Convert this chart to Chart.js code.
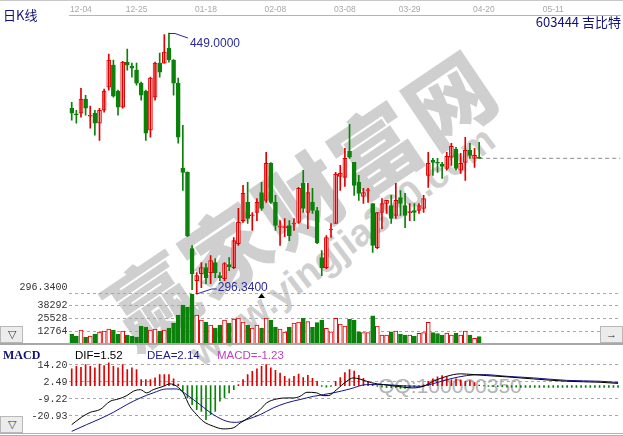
<!DOCTYPE html>
<html><head><meta charset="utf-8">
<script src="https://cdn.jsdelivr.net/npm/chart.js@4.4.1/dist/chart.umd.min.js"></script>
<style>
body{margin:0;width:623px;height:436px;position:relative;background:#fff;overflow:hidden;font-family:"Liberation Sans",Arial,sans-serif}
.a{position:absolute;white-space:nowrap}
canvas{display:block}
.btn{position:absolute;background:#ececec;border:1px solid #b8b8b8;box-sizing:border-box;font-size:11px;color:#333;text-align:center;line-height:14px}
.wm{position:absolute;white-space:nowrap;transform-origin:50% 50%;color:#cfcfcf}
</style></head><body>

<div class="wm" style="left:300px;top:196px;transform:translate(-50%,-50%) rotate(-34deg);font:900 86px 'Noto Sans CJK SC';letter-spacing:4px;line-height:90px">赢家财富网</div>
<div class="wm" style="left:342px;top:246px;transform:translate(-50%,-50%) rotate(-37deg);font:bold 38px 'Liberation Sans';line-height:40px">www.yingjia360.com</div>
<div class="wm" style="left:450px;top:386px;transform:translate(-50%,-50%);font:21px 'Liberation Sans';line-height:24px;color:#b4b4b4">QQ:100000350</div>

<div class="a" style="left:0;top:0;width:623px;height:1px;background:#c8c8c8"></div>
<div class="a" style="left:0;top:290px;width:623px;height:55px"><canvas id="vc" width="623" height="55"></canvas></div>
<div class="a" style="left:0;top:0;width:623px;height:300px"><canvas id="pc" width="623" height="300"></canvas></div>
<div class="a" style="left:0;top:345px;width:623px;height:91px"><canvas id="mc" width="623" height="91"></canvas></div>

<div class="a" style="left:0;top:343px;width:623px;height:2px;background:#a8a8a8"></div>
<div class="a" style="left:0;top:433px;width:623px;height:1px;background:#b0b0b0"></div>
<div class="a" style="left:0;top:435px;width:623px;height:1px;background:#b0b0b0"></div>

<div class="a" style="left:3px;top:6px;font:13px 'Noto Sans CJK SC';color:#10107a;line-height:18px">日K线</div>
<div class="a" style="right:2px;top:13px;font:13px 'Noto Sans CJK SC';color:#10107a;line-height:18px">603444&nbsp;吉比特</div>

<div class="a" style="left:3px;top:347px;font:bold 12px 'Liberation Serif';color:#10107a;line-height:16px">MACD</div>
<div class="a" style="left:75px;top:347px;font:11.5px 'Liberation Sans';color:#000;line-height:16px">DIF=1.52</div>
<div class="a" style="left:147px;top:347px;font:11.5px 'Liberation Sans';color:#1a1a8c;line-height:16px">DEA=2.14</div>
<div class="a" style="left:217px;top:347px;font:11.5px 'Liberation Sans';color:#c040c0;line-height:16px">MACD=-1.23</div>

<div class="btn" style="left:0;top:326px;width:23px;height:17px">▽</div>
<div class="btn" style="left:0;top:416px;width:23px;height:17px">▽</div>
<div class="btn" style="left:600px;top:326px;width:23px;height:17px">→</div>

<script>
// ---------- data ----------
const dateIdx    = [2, 14, 29, 44, 59, 73, 89, 104];
const dateLabels = ['12-04','12-25','01-18','02-08','03-08','03-29','04-20','05-11'];

const open  = [405.0,401.5,402.1,410.3,400.3,402.1,396.2,403.8,417.3,430.2,
               415.0,405.6,432.0,429.6,427.3,419.7,415.0,392.1,411.5,431.4,
               431.4,440.2,433.2,419.7,369.8,367.5,322.9,304.1,308.2,311.8,
               308.8,314.7,307.1,305.3,313.5,311.8,325.8,339.3,349.9,342.0,
               344.0,355.7,351.1,372.8,349.9,335.5,335.2,336.4,337.3,338.2,
               361.0,344.0,349.9,345.2,317.6,311.8,333.8,337.6,365.1,364.5,
               379.8,373.3,361.6,353.4,356.7,349.3,323.5,344.0,349.3,348.1,
               342.3,352.8,348.1,343.9,345.2,345.2,346.4,365.7,374.5,373.3,
               372.2,369.8,376.3,381.0,368.7,373.3,380.4,375.7,375.9];
const high  = [408.5,403.8,416.7,412.6,406.2,403.8,405.0,416.2,436.7,433.2,
               415.6,432.5,439.6,431.4,431.4,420.3,415.6,423.2,432.0,437.3,
               448.1,449.0,433.5,422.6,395.0,367.8,324.7,308.8,314.7,314.1,
               318.8,317.0,308.8,314.7,317.6,329.4,346.4,359.9,361.6,344.0,
               352.2,361.6,379.2,373.2,354.0,339.3,340.5,339.3,340.5,358.7,
               368.7,361.0,358.1,347.0,321.7,330.5,337.6,367.5,371.6,381.6,
               395.6,373.3,365.7,358.1,358.1,349.3,344.0,352.2,351.1,354.0,
               361.0,356.9,355.2,349.3,349.3,349.3,354.0,379.2,375.7,375.7,
               373.3,379.2,384.5,382.1,378.6,388.0,384.5,381.6,385.1];
const low   = [398.0,396.2,399.7,400.9,393.3,389.2,386.2,402.7,415.6,411.5,
               400.9,405.0,427.3,423.2,418.5,409.7,386.2,388.0,409.7,423.2,
               431.4,432.0,412.6,384.5,356.9,329.9,298.9,296.34,300.0,302.4,
               302.4,305.9,304.1,304.1,310.0,311.2,324.7,338.2,337.6,333.5,
               339.3,345.2,349.9,349.3,333.5,324.7,329.9,327.6,333.5,337.6,
               344.0,334.6,343.4,325.8,307.1,311.2,329.4,337.6,356.9,359.3,
               375.7,354.0,351.1,349.3,349.9,320.6,322.9,334.6,343.4,337.6,
               340.5,342.3,335.2,339.3,339.3,343.4,344.0,358.7,365.7,367.5,
               364.0,368.7,371.6,368.7,366.9,362.8,375.7,370.4,375.7];
const close = [402.1,401.2,410.3,405.0,400.6,396.2,403.8,415.0,433.2,412.1,
               405.6,432.0,430.2,428.5,419.7,412.6,390.4,422.6,431.4,426.1,
               437.9,433.2,419.7,388.0,367.5,330.5,308.2,307.1,311.8,305.9,
               315.9,308.8,305.9,314.1,312.3,327.6,338.2,355.2,340.5,342.3,
               349.9,346.4,372.8,349.9,336.4,335.8,335.8,330.5,337.6,358.1,
               346.4,355.7,345.2,326.4,311.8,329.4,334.1,366.3,366.9,375.7,
               376.3,359.9,355.2,355.7,357.0,324.7,344.0,349.3,351.1,340.5,
               351.1,349.3,342.3,344.2,344.0,348.1,352.2,372.8,373.3,372.8,
               371.0,376.9,382.7,369.8,372.8,380.4,377.4,377.4,375.7];
const volume = [9800,7800,13800,6800,7800,9800,11800,12800,14800,13800,
                9800,12800,8800,7800,6800,17900,16800,13800,14800,12800,
                13800,15800,20900,29000,39000,37000,50150,29000,23900,21900,
                18900,15800,18900,23900,20900,24900,25900,21900,18900,15800,
                18900,15800,25900,23900,16800,14800,11800,16800,20900,21900,
                25600,22200,16500,21200,23900,15500,12100,25600,19900,17900,
                24600,23900,12100,11100,11100,28000,17900,8800,8800,12100,
                12800,9500,8800,8800,7800,10400,11100,21600,11100,10100,
                8800,10800,8800,10800,8800,12800,8800,5400,7100];

const macdHist = [11.5,13.3,12.6,14.5,13.3,12.2,14.9,13.8,15.6,13.3,12.2,14.5,11.0,12.2,11.0,4.1,4.1,4.1,5.3,7.6,7.6,7.6,4.6,
  1.0,
  -3.9,-8.5,-13.1,-16.5,-17.7,-23.4,-20.0,-17.7,-10.8,-8.5,-5.0,-2.8,
  0.7,4.1,7.6,9.8,11.5,13.3,14.5,12.2,10.5,8.7,6.4,4.6,6.4,
  8.0,5.5,7.0,5.0,3.0,
  -0.5,-1.0,-0.5,
  3.0,5.5,9.0,11.0,10.0,7.0,5.0,3.0,1.0,
  -0.5,-1.0,-1.5,-1.5,-1.5,-2.0,-2.0,-1.5,-1.0,-0.5,0.5,
  3.0,4.6,6.0,6.9,6.0,3.9,4.6,3.9,3.0,3.4,2.0,0.4,
  -0.3,-0.5,-0.7,-0.8,-0.9,-1.0,
  -1.1,-1.1,-1.2,-1.2,-1.2,-1.2,-1.3,-1.2,-1.2,-1.3,-1.2,-1.2,-1.3,-1.2,-1.2,-1.2,-1.3,-1.2,-1.2,-1.2,-1.2,-1.3,-1.2,-1.23];

const difX = [0,2.2,4,6.1,8.3,10.1,11.9,13.3,14.8,16.2,17.6,19.8,21.2,22.7,24.1,25.5,27,28.4,30.6,32.7,34.9,36.4,38.5,40.7,42.1,44.3,46.4,47.9,49.3,50.8,52.9,54.3,55.4,57.2,59.4,60.8,63.7,64.8,67.3,70.2,73.8,75.9,78.1,81,83.9,86.7,89.6,94,99.7,106.9,114.1,118];
const difY = [-26.9,-21.6,-18.4,-16.5,-10.8,-9.2,-6.9,-3.9,-2.8,-5.0,-2.8,-0.5,1.2,-0.5,-5.0,-14.3,-20.0,-24.6,-28.0,-29.8,-29.1,-25.7,-21.6,-16.5,-11.9,-9.2,-8.5,-8.5,-7.4,-4.6,-5.0,-6.9,-6.9,-2.8,3.0,5.3,3.0,1.9,0.7,-0.5,-1.6,-0.5,3.0,6.4,8.1,7.6,6.9,6.0,4.6,3.0,2.3,1.52];
const deaX = [0,3.2,6.1,9,11.9,14.8,17.6,20.5,22.7,24.8,27.7,30.6,33.5,35.6,37.8,40.7,43.5,46.4,49.3,52.2,56.5,60.1,63.7,67.3,70.9,75.2,78.1,81.7,85.3,88.9,94,99.7,106.9,114.1,118];
const deaY = [-31.5,-26.9,-22.9,-18.4,-13.1,-8.5,-5.0,-2.3,-2.3,-6.2,-13.1,-20.0,-24.6,-25.3,-23.4,-20.0,-15.4,-11.9,-9.6,-7.4,-5.0,-2.3,0.7,0.7,0,-0.5,1.4,4.6,6.9,7.6,6.4,5.3,3.6,3.0,2.14];

const priceTicks = [296.34], priceTickLabels = ['296.3400'];
const volTicks = [12764, 25528, 38292];
const macdTicks = [14.20, 2.49, -9.22, -20.93], macdTickLabels = ['14.20','2.49','-9.22','-20.93'];
const hiIdx = 21, hiVal = 449.0, hiLabel = '449.0000';
const loIdx = 27, loVal = 296.34, loLabel = '296.3400';
const markIdx = 41;
const lastIdx = 88, endIdx = 118.5;

// ---------- styles ----------
const RED = '#e00000', GREEN = '#0a820a';
const XMIN = -0.5, XMAX = 118.5, YW = 69.4, PADR = 2.6;
const up = open.map((o,i)=> close[i] >= o);
const idx = open.map((_,i)=>i);
const monoFont = {family:'"Liberation Mono","DejaVu Sans Mono",monospace', size:10};
const baseX = {type:'linear', min:XMIN, max:XMAX, offset:false, display:false};
const fixW = s => { s.width = YW; s.paddingTop = 0; s.paddingBottom = 0; };
Chart.defaults.animation = false;

const common = {responsive:false, animation:false, events:[],
  plugins:{legend:{display:false}, tooltip:{enabled:false}}};

// ---------- price chart ----------
const markPlugin = {
  id:'marks',
  afterDatasetsDraw(chart){
    const {ctx, scales:{x,y}} = chart;
    ctx.save();
    ctx.strokeStyle = '#2a2a9c'; ctx.fillStyle = '#2a2a9c'; ctx.lineWidth = 1;
    ctx.font = '12px "Liberation Sans"'; ctx.textBaseline = 'middle';
    const hx = x.getPixelForValue(hiIdx), hy = y.getPixelForValue(hiVal);
    ctx.beginPath(); ctx.moveTo(hx, hy+0.5); ctx.lineTo(hx+6, hy+0.5); ctx.lineTo(hx+19, hy+5); ctx.stroke();
    ctx.fillText(hiLabel, hx+21, hy+11);
    const lx = x.getPixelForValue(loIdx), ly = y.getPixelForValue(loVal);
    ctx.beginPath(); ctx.moveTo(lx, ly); ctx.lineTo(lx+15, ly-5); ctx.lineTo(lx+20, ly-5); ctx.stroke();
    ctx.fillText(loLabel, lx+21, ly-6);
    const mx = x.getPixelForValue(markIdx);
    ctx.fillStyle = '#000';
    ctx.beginPath(); ctx.moveTo(mx-3.5, ly+4); ctx.lineTo(mx+3.5, ly+4); ctx.lineTo(mx, ly-0.5); ctx.closePath(); ctx.fill();
    ctx.restore();
  }
};

new Chart(document.getElementById('pc'), {
  type:'bar',
  data:{datasets:[
    {label:'wick', data: idx.map(i=>({x:i, y:[low[i], high[i]]})),
     backgroundColor: idx.map(i=> up[i]?RED:GREEN), barThickness:1, grouped:false, minBarLength:1},
    {label:'body', data: idx.map(i=>({x:i, y:[open[i], close[i]]})),
     backgroundColor: idx.map(i=> up[i]?'#ffffff':GREEN), borderColor: idx.map(i=> up[i]?RED:GREEN),
     borderWidth:1, borderSkipped:false, barThickness:4, grouped:false, minBarLength:1},
    {type:'line', label:'last', data:[{x:lastIdx, y:close[lastIdx]},{x:endIdx, y:close[lastIdx]}],
     borderColor:'#8a8a8a', borderWidth:1, borderDash:[4,3], pointRadius:0}
  ]},
  options:{...common,
    layout:{padding:{left:0,right:PADR,top:0,bottom:0}},
    scales:{
      x:{type:'linear', position:'top', min:XMIN, max:XMAX, offset:false,
         grid:{display:false, drawTicks:false}, border:{display:true, color:'#b4b4b4'},
         afterBuildTicks: s => { s.ticks = dateIdx.map(v=>({value:v})); },
         afterFit: s => { s.height = 15; s.paddingLeft = 0; s.paddingRight = 0; },
         ticks:{autoSkip:false, maxRotation:0, padding:0, color:'#a8a8a8',
                font:{family:'"Liberation Sans"', size:8.5}, callback:(v,i)=> dateLabels[i]}},
      y:{position:'left', min:292.83, max:459.53, afterFit:fixW,
         afterBuildTicks: s => { s.ticks = priceTicks.map(v=>({value:v})); },
         grid:{color:'#a8a8a8', drawTicks:false}, border:{display:false, dash:[3,3]},
         ticks:{padding:2, labelOffset:-7, color:'#333', font:monoFont, callback:(v,i)=>priceTickLabels[i]}}
    }
  },
  plugins:[markPlugin]
});

// ---------- volume chart ----------
new Chart(document.getElementById('vc'), {
  type:'bar',
  data:{datasets:[
    {data: idx.map(i=>({x:i, y:volume[i]})),
     backgroundColor: idx.map(i=> up[i]?'#ffffff':GREEN), borderColor: idx.map(i=> up[i]?RED:GREEN),
     borderWidth:1, borderSkipped:false, barThickness:4, grouped:false}
  ]},
  options:{...common,
    layout:{padding:{left:0,right:PADR,top:4,bottom:1.3}},
    scales:{
      x:{...baseX},
      y:{position:'left', min:0, max:50150, afterFit:fixW,
         afterBuildTicks: s => { s.ticks = volTicks.map(v=>({value:v})); },
         grid:{color:'#a8a8a8', drawTicks:false}, border:{display:false, dash:[3,3]},
         ticks:{padding:2, color:'#333', font:monoFont, callback:v=>String(v)}}
    }
  }
});

// ---------- MACD chart ----------
new Chart(document.getElementById('mc'), {
  type:'bar',
  data:{datasets:[
    {data: macdHist.map((v,i)=>({x:i, y:v})),
     backgroundColor: macdHist.map(v=> v>=0?RED:GREEN), barThickness:1, grouped:false, order:3},
    {type:'line', data: deaX.map((x,k)=>({x, y:deaY[k]})), borderColor:'#14148c', borderWidth:1,
     pointRadius:0, cubicInterpolationMode:'monotone', order:2},
    {type:'line', data: difX.map((x,k)=>({x, y:difY[k]})), borderColor:'#000000', borderWidth:1,
     pointRadius:0, cubicInterpolationMode:'monotone', order:1}
  ]},
  options:{...common,
    layout:{padding:{left:0,right:PADR,top:15,bottom:3}},
    scales:{
      x:{...baseX},
      y:{position:'left', min:-32.64, max:17.63, afterFit:fixW,
         afterBuildTicks: s => { s.ticks = macdTicks.map(v=>({value:v})); },
         grid:{color:'#a8a8a8', drawTicks:false}, border:{display:false, dash:[3,3]},
         ticks:{padding:2, color:'#333', font:monoFont, callback:(v,i)=>macdTickLabels[i]}}
    }
  }
});
</script>
</body></html>
